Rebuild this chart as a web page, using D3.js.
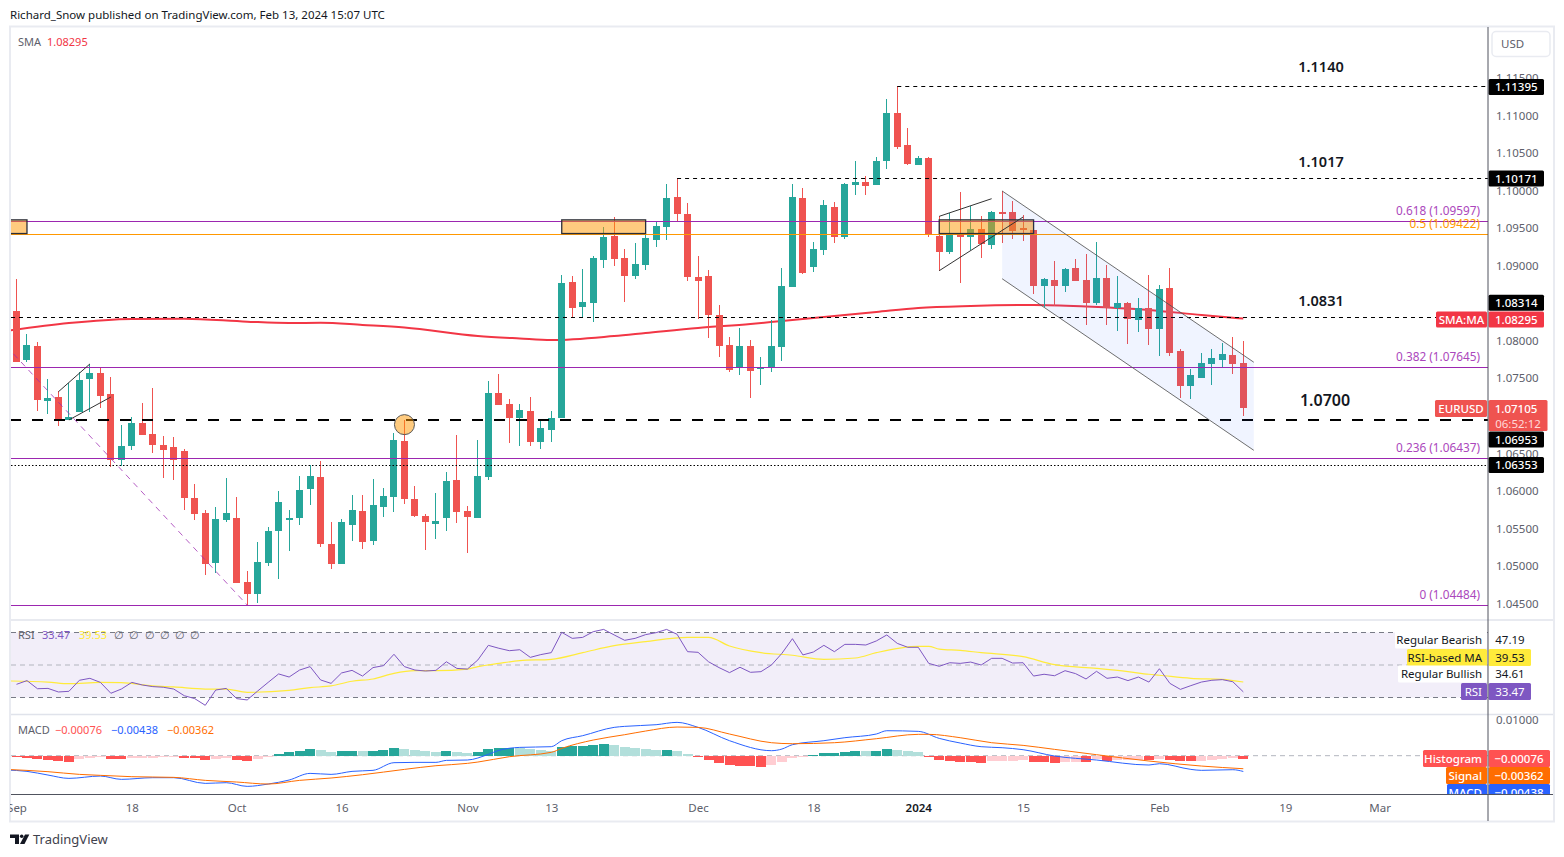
<!DOCTYPE html>
<html>
<head>
<meta charset="utf-8">
<title>EURUSD</title>
<script src="https://cdnjs.cloudflare.com/ajax/libs/d3/7.8.5/d3.min.js"></script>
<style>
html, body { margin: 0; padding: 0; background: #fff; }
svg { display: block; }
text { font-family: "Noto Sans", sans-serif; }
</style>
</head>
<body>
<div id="chart"></div>
<script>
// daily candles, 1 Sep 2023 to 13 Feb 2024
var opens = [1.08397,1.07744,1.07930,1.07198,1.07251,1.06945,1.07051,1.07490,1.07570,1.07291,
	1.06412,1.06598,1.06905,1.06758,1.06612,1.06585,1.06532,1.05905,1.05706,1.05040,
	1.05613,1.05640,1.04787,1.04627,1.05040,1.05467,1.05613,1.05640,1.06025,1.06186,
	1.05293,1.05027,1.05546,1.05733,1.05333,1.05786,1.05919,1.06665,1.05892,1.05666,
	1.05560,1.05640,1.06146,1.05733,1.05640,1.06186,1.07304,1.07158,1.06972,1.07065,
	1.06651,1.06811,1.06972,1.08782,1.08450,1.08503,1.09075,1.09395,1.09102,1.08862,
	1.09009,1.09342,1.09515,1.09915,1.09688,1.08849,1.08862,1.08343,1.07943,1.07637,
	1.07930,1.07623,1.07637,1.07917,1.08716,1.09901,1.08982,1.09209,1.09781,1.09382,
	1.10074,1.10114,1.10074,1.10394,1.11033,1.10607,1.10341,1.10434,1.09395,1.09182,
	1.09435,1.09382,1.09488,1.09275,1.09715,1.09715,1.09501,1.09475,1.08729,1.08809,
	1.08729,1.08969,1.08809,1.08503,1.08835,1.08436,1.08503,1.08276,1.08436,1.08157,
	1.08702,1.07864,1.07397,1.07503,1.07691,1.07744,1.07810,1.07704];
var highs = [1.08822,1.08090,1.07983,1.07490,1.07331,1.07437,1.07583,1.07691,1.07650,1.07517,
	1.06878,1.06985,1.07171,1.07371,1.06731,1.06718,1.06558,1.06093,1.05746,1.05786,
	1.06172,1.05919,1.04934,1.05319,1.05520,1.05999,1.05746,1.06199,1.06345,1.06399,
	1.05586,1.05626,1.05946,1.05946,1.06159,1.06039,1.06771,1.06945,1.06066,1.05693,
	1.05972,1.06252,1.06745,1.05799,1.06678,1.07464,1.07557,1.07224,1.07158,1.07251,
	1.06945,1.07065,1.08875,1.08862,1.08955,1.09129,1.09515,1.09648,1.09222,1.09302,
	1.09422,1.09581,1.10088,1.10168,1.09835,1.09129,1.08942,1.08476,1.08050,1.08170,
	1.08010,1.07784,1.08276,1.08969,1.10088,1.10035,1.09315,1.09875,1.09848,1.10101,
	1.10394,1.10194,1.10447,1.11220,1.11393,1.10834,1.10460,1.10447,1.09661,1.09701,
	1.09981,1.09794,1.09661,1.09728,1.09995,1.09861,1.09675,1.09475,1.08835,1.09062,
	1.08969,1.09089,1.09155,1.09315,1.09009,1.08862,1.08516,1.08569,1.08875,1.08742,
	1.08969,1.07890,1.07623,1.07837,1.07890,1.07970,1.08050,1.07997];
var lows = [1.07717,1.07717,1.07065,1.07025,1.06865,1.06945,1.07051,1.07051,1.07104,1.06319,
	1.06332,1.06545,1.06745,1.06505,1.06172,1.06146,1.05746,1.05613,1.04880,1.04907,
	1.05586,1.04774,1.04480,1.04507,1.05000,1.04827,1.05200,1.05546,1.05813,1.05253,
	1.04960,1.05027,1.05333,1.05226,1.05279,1.05653,1.05719,1.05826,1.05653,1.05213,
	1.05360,1.05467,1.05573,1.05173,1.05640,1.06146,1.07144,1.06638,1.06598,1.06598,
	1.06558,1.06651,1.06972,1.08316,1.08316,1.08249,1.08969,1.08995,1.08516,1.08822,
	1.08942,1.09249,1.09342,1.09595,1.08796,1.08290,1.08037,1.07784,1.07583,1.07543,
	1.07237,1.07410,1.07583,1.07731,1.08716,1.08889,1.08915,1.09142,1.09302,1.09355,
	1.09941,1.09941,1.10074,1.10287,1.10554,1.10341,1.10341,1.09382,1.08929,1.09155,
	1.08769,1.09209,1.09102,1.09222,1.09302,1.09355,1.09329,1.08622,1.08450,1.08463,
	1.08649,1.08796,1.08210,1.08476,1.08210,1.08130,1.07957,1.08117,1.07943,1.07797,
	1.07797,1.07237,1.07224,1.07503,1.07410,1.07637,1.07557,1.06998];
var closes = [1.07717,1.07943,1.07211,1.07237,1.06945,1.06985,1.07477,1.07570,1.07264,1.06412,
	1.06598,1.06905,1.06745,1.06612,1.06545,1.06412,1.05905,1.05693,1.05027,1.05626,
	1.05706,1.04774,1.04627,1.05053,1.05467,1.05853,1.05640,1.06012,1.06199,1.05293,
	1.05027,1.05586,1.05746,1.05319,1.05813,1.05932,1.06678,1.05892,1.05666,1.05586,
	1.05600,1.06132,1.05719,1.05653,1.06199,1.07304,1.07144,1.06972,1.07078,1.06651,
	1.06838,1.06972,1.08769,1.08436,1.08516,1.09102,1.09382,1.09089,1.08862,1.09022,
	1.09369,1.09528,1.09901,1.09688,1.08849,1.08796,1.08343,1.07930,1.07610,1.07930,
	1.07597,1.07650,1.07930,1.08729,1.09915,1.08902,1.09222,1.09808,1.09382,1.10088,
	1.10114,1.10061,1.10394,1.11033,1.10581,1.10354,1.10434,1.09422,1.09182,1.09435,
	1.09382,1.09488,1.09289,1.09715,1.09701,1.09461,1.09475,1.08729,1.08822,1.08729,
	1.08955,1.08796,1.08503,1.08835,1.08436,1.08503,1.08290,1.08436,1.08157,1.08689,
	1.07837,1.07397,1.07543,1.07704,1.07771,1.07824,1.07691,1.07105];

// 200 day SMA, read at these candle numbers
var smaIdx = [-1,5,11,16,22,26,29,33,37,44,48,51,57,60,65,70,73,77,82,86,91,97,102,108,113,117];
var smaVal = [1.08130,1.08236,1.08290,1.08294,1.08254,1.08236,1.08240,1.08210,1.08176,1.08063,1.08030,1.08010,1.08063,1.08103,1.08170,1.08223,1.08263,1.08316,1.08383,1.08436,1.08463,1.08476,1.08456,1.08410,1.08343,1.08295];

var rsiVal = [38.1,40.4,35.4,35.6,33.4,33.8,40.6,41.8,39.3,32.6,
	35.2,39.3,37.7,36.7,36.3,35.2,31.1,29.3,25.2,34.6,
	35.6,29.3,28.5,34.0,39.3,44.5,42.6,46.9,49.0,40.8,
	38.7,45.1,46.7,43.2,48.4,49.6,56.6,49.0,46.9,46.3,
	46.7,52.0,47.9,47.5,53.1,62.1,60.3,58.8,59.4,54.7,
	56.4,57.6,70.1,66.4,67.0,70.5,71.9,68.5,65.2,66.4,
	68.7,69.9,71.9,68.9,58.2,57.8,52.0,48.4,45.3,48.6,
	45.5,45.9,50.0,57.2,66.2,56.2,58.0,62.1,58.2,62.7,
	62.7,62.3,64.8,68.5,63.3,60.9,60.9,51.0,49.2,51.4,
	51.0,51.8,50.0,54.1,54.1,51.2,51.4,43.2,44.3,43.4,
	46.5,44.7,41.4,46.1,41.8,42.6,40.4,42.6,39.5,47.7,
	38.7,35.0,37.3,39.5,40.6,41.0,39.7,33.47];
var rsiMaIdx = [-1,3,5,8,10,13,15,18,20,22,26,28,30,32,34,36,38,40,43,44,46,48,51,54,57,60,64,66,68,71,74,77,80,82,86,87,88,90,92,96,99,103,106,108,109,112,115,117];
var rsiMaVal = [40.2,39.5,38.5,39.3,39.1,37.1,36.5,35.2,35.2,33.2,34.4,36.1,37.1,40.0,41.4,44.9,46.5,46.5,47.5,49.0,51.0,52.7,53.5,57.6,61.9,64.4,67.0,67.0,61.7,57.6,56.0,53.5,54.3,57.6,61.5,61.5,59.8,59.0,57.6,55.1,50.2,47.9,45.9,44.3,43.7,41.8,41.2,39.53];

var histVal = [-.00036,-.00064,-.00092,-.00119,-.00147,-.00153,-.00083,-.00047,-.00036,-.00092,
	-.00097,-.00064,-.00050,-.00044,-.00039,-.00033,-.00064,-.00069,-.00119,-.00092,
	-.00064,-.00119,-.00125,-.00092,-.00036,.00047,.00103,.00131,.00186,.00158,
	.00103,.00131,.00133,.00131,.00133,.00158,.00214,.00186,.00158,.00131,
	.00103,.00131,.00103,.00075,.00103,.00186,.00214,.00217,.00211,.00186,
	.00158,.00131,.00242,.00269,.00272,.00297,.00325,.00297,.00242,.00214,
	.00186,.00158,.00161,.00131,.00047,-.00036,-.00119,-.00203,-.00258,-.00286,
	-.00289,-.00292,-.00258,-.00175,-.00064,-.00036,.00019,.00075,.00078,.00103,
	.00131,.00128,.00131,.00186,.00158,.00131,.00103,-.00036,-.00119,-.00147,
	-.00175,-.00178,-.00181,-.00147,-.00144,-.00142,-.00119,-.00175,-.00178,-.00203,
	-.00175,-.00172,-.00175,-.00092,-.00147,-.00119,-.00117,-.00114,-.00119,-.00092,
	-.00119,-.00147,-.00150,-.00147,-.00119,-.00092,-.00064,-.00076];
var macdIdx = [-1,1,3,5,8,10,13,15,18,20,22,24,26,28,30,32,34,36,38,40,41,43,45,46,48,51,52,54,57,58,61,63,65,68,72,73,74,77,79,82,83,86,88,90,92,94,96,99,103,108,109,112,113,116,117];
var macdVal = [-.00398,-.00435,-.00537,-.00630,-.00565,-.00657,-.00611,-.00611,-.00769,-.00750,-.00852,-.00787,-.00676,-.00491,-.00519,-.00435,-.00407,-.00194,-.00185,-.00185,-.00130,-.00120,.00037,.00148,.00231,.00250,.00417,.00556,.00787,.00815,.00861,.00926,.00787,.00417,.00139,.00185,.00306,.00417,.00500,.00602,.00694,.00676,.00481,.00352,.00250,.00222,.00167,-.00009,-.00120,-.00259,-.00222,-.00380,-.00407,-.00389,-.00438];
var signalIdx = [-1,3,6,8,11,15,18,21,24,27,30,33,37,40,43,44,47,51,52,55,58,60,63,65,68,72,74,78,82,86,87,90,93,96,99,103,108,113,117];
var signalVal = [-.00380,-.00444,-.00519,-.00546,-.00583,-.00602,-.00685,-.00731,-.00787,-.00685,-.00620,-.00528,-.00380,-.00278,-.00213,-.00176,-.00028,.00093,.00204,.00435,.00583,.00685,.00796,.00787,.00602,.00361,.00333,.00361,.00472,.00593,.00593,.00500,.00361,.00287,.00176,.00028,-.00148,-.00287,-.00362];

// 1.08500 and 1.07000 sit fully behind the price tags in the picture
var priceTicks = [1.115,1.11,1.105,1.10,1.095,1.09,1.08,1.075,1.065,1.06,1.055,1.05,1.045];
var timeTickIdx = [0,11,21,31,43,51,65,76,86,96,109,121,130];
var timeTickLabels = ['Sep','18','Oct','16','Nov','13','Dec','18','2024','15','Feb','19','Mar'];

var fibLevels = ['0.618','0.5','0.382','0.236','0'];
var fibPrices = [1.09597,1.09422,1.07645,1.06437,1.04484];

var W = 1564, H = 857;
var left = 11, axisX = 1488;
var green = '#26a69a', red = '#ef5350', purple = '#9c27b0', orange = '#ff9800', grey = '#5d606b';

var svg = d3.select('#chart').append('svg').attr('width', W).attr('height', H);
var defs = svg.append('defs');
function addClip(id, y0, y1){
	defs.append('clipPath').attr('id', id).append('rect')
		.attr('x', left).attr('y', y0).attr('width', axisX - left).attr('height', y1 - y0);
}
addClip('clipMain', 27, 619);
addClip('clipRsi', 621, 714);
addClip('clipMacd', 715, 794);

var x = d3.scaleLinear().domain([0, 117]).range([16.5, 1243.3]);
var y = d3.scaleLinear().domain([1.11, 1.05]).range([115.5, 566]);
var yRsi = d3.scaleLinear().domain([70, 30]).range([632.5, 697.5]);
var yMacd = d3.scaleLinear().domain([0.01, 0]).range([719.7, 755.7]);

// frame
svg.append('rect').attr('x', 10).attr('y', 26.5).attr('width', 1544).attr('height', 795)
	.attr('fill', 'none').attr('stroke', '#e9ebf1').attr('stroke-width', 2);
svg.append('line').attr('x1', left).attr('x2', 1553).attr('y1', 620).attr('y2', 620).attr('stroke', '#e0e3eb').attr('stroke-width', 1.5);
svg.append('line').attr('x1', left).attr('x2', 1553).attr('y1', 714.5).attr('y2', 714.5).attr('stroke', '#e0e3eb').attr('stroke-width', 1.5);

svg.append('text').attr('x', 10).attr('y', 18.5).attr('font-size', 11.5).attr('fill', '#131722')
	.text('Richard_Snow published on TradingView.com, Feb 13, 2024 15:07 UTC');

// main pane
var main = svg.append('g').attr('clip-path', 'url(#clipMain)');
var line = d3.line().x(function(d){ return x(d[0]); }).y(function(d){ return y(d[1]); });

main.append('path').datum(d3.zip(smaIdx, smaVal))
	.attr('d', line.curve(d3.curveMonotoneX))
	.attr('fill', 'none').attr('stroke', '#f23645').attr('stroke-width', 2);
line.curve(d3.curveLinear);

var candles = main.selectAll('g.candle').data(opens).enter().append('g').attr('class', 'candle');
candles.append('rect')
	.attr('x', function(d, i){ return Math.round(x(i) - 3.5) + 3; })
	.attr('y', function(d, i){ return Math.round(y(highs[i])); })
	.attr('width', 1)
	.attr('height', function(d, i){ return Math.round(y(lows[i])) - Math.round(y(highs[i])); })
	.attr('fill', function(d, i){ return closes[i] >= d ? green : red; });
candles.append('rect')
	.attr('x', function(d, i){ return Math.round(x(i) - 3.5); })
	.attr('y', function(d, i){ return Math.round(y(Math.max(d, closes[i]))); })
	.attr('width', 7)
	.attr('height', function(d, i){ return Math.max(2, Math.round(y(Math.min(d, closes[i]))) - Math.round(y(Math.max(d, closes[i])))); })
	.attr('fill', function(d, i){ return closes[i] >= d ? green : red; });

// fib retracement
main.selectAll('line.fib').data(fibPrices).enter().append('line').attr('class', 'fib')
	.attr('x1', left).attr('x2', axisX)
	.attr('y1', function(d){ return Math.round(y(d)) + 0.5; }).attr('y2', function(d){ return Math.round(y(d)) + 0.5; })
	.attr('stroke', function(d, i){ return i == 1 ? orange : purple; })
	.attr('stroke-width', 1);
main.append('path').datum([[-1, 1.07932], [22, 1.04480]]).attr('d', line)
	.attr('fill', 'none').attr('stroke', purple).attr('stroke-width', 1).attr('stroke-dasharray', '6 5').attr('opacity', 0.75);

// horizontal levels
function level(price, from, width, dash){
	var ly = Math.round(y(price)) + width / 2;
	main.append('line').attr('x1', from).attr('x2', axisX)
		.attr('y1', ly).attr('y2', ly)
		.attr('stroke', '#000').attr('stroke-width', width).attr('stroke-dasharray', dash);
}
level(1.11395, x(84), 1, '4 4');
level(1.10171, x(63), 1, '4 4');
level(1.08314, left, 1, '4 4');
level(1.06953, left - 1, 2, '11 11');
level(1.06342, left, 1, '1.5 2');

// rectangles and the circle
function zone(i0, i1){
	main.append('rect').attr('x', i0 < 0 ? left - 2 : x(i0)).attr('width', x(i1) - (i0 < 0 ? left - 2 : x(i0)))
		.attr('y', y(1.09610)).attr('height', y(1.09428) - y(1.09610))
		.attr('fill', orange).attr('fill-opacity', 0.5).attr('stroke', '#2a2e39').attr('stroke-width', 1.3);
}
zone(-1, 1);
zone(52, 60);
zone(88, 97);
main.append('circle').attr('cx', x(37)).attr('cy', y(1.06883)).attr('r', 10)
	.attr('fill', orange).attr('fill-opacity', 0.5).attr('stroke', '#555').attr('stroke-width', 1);

// channel
var channelTop = [[94, 1.09995], [118, 1.07714]];
var channelBottom = [[94, 1.08826], [118, 1.06541]];
main.append('path').attr('d', line(channelTop.concat(channelBottom.slice().reverse())) + 'Z')
	.attr('fill', '#2962ff').attr('fill-opacity', 0.07);
main.append('path').attr('d', line(channelTop)).attr('fill', 'none').attr('stroke', '#555').attr('stroke-opacity', 0.85);
main.append('path').attr('d', line(channelBottom)).attr('fill', 'none').attr('stroke', '#555').attr('stroke-opacity', 0.85);

// flags
var flags = [
	[[4, 1.07321], [7, 1.07691]],
	[[5, 1.06945], [9, 1.07251]],
	[[88, 1.09657], [93, 1.09892]],
	[[88, 1.08933], [96, 1.09648]]
];
flags.forEach(function(f){
	main.append('path').attr('d', line(f)).attr('fill', 'none').attr('stroke', '#333').attr('stroke-width', 1);
});

// level captions
var captionText = ['1.1140','1.1017','1.0831','1.0700'];
var captionX = [1321,1321,1321,1325];
var captionY = [72,167,306,405.5];
captionText.forEach(function(t, i){
	svg.append('text').attr('x', captionX[i]).attr('y', captionY[i]).attr('text-anchor', 'middle')
		.attr('font-size', i == 3 ? 16 : 14.5).attr('font-weight', 600).attr('fill', '#131722').text(t);
});
var fibColors = ['#ab47bc', orange, '#ab47bc', '#ab47bc', '#ab47bc'];
fibLevels.forEach(function(l, i){
	svg.append('text').attr('x', 1480).attr('y', y(fibPrices[i]) - 6).attr('text-anchor', 'end')
		.attr('font-size', 11.8).attr('fill', fibColors[i])
		.text(l + ' (' + fibPrices[i].toFixed(5) + ')');
});

svg.append('text').attr('x', 18).attr('y', 46).attr('font-size', 11).attr('fill', grey).text('SMA');
svg.append('text').attr('x', 47).attr('y', 46).attr('font-size', 11).attr('fill', '#f23645').text('1.08295');

// price axis
var axisR = svg.append('g').attr('transform', 'translate(' + axisX + ',0)')
	.call(d3.axisRight(y).tickValues(priceTicks).tickFormat(d3.format('.5f')).tickSize(0).tickPadding(8));
axisR.select('.domain').remove();
axisR.selectAll('text').attr('font-size', 11.5).attr('fill', grey).style('font-family', '"Noto Sans", sans-serif');

function tag(x0, x1, yc, h, fill, txt, color, anchor){
	svg.append('rect').attr('x', x0).attr('y', yc - h / 2).attr('width', x1 - x0).attr('height', h).attr('rx', 1.5).attr('fill', fill);
	svg.append('text').attr('x', anchor == 'end' ? x1 - 5 : (x0 + x1) / 2).attr('y', yc + 4).attr('text-anchor', anchor || 'middle')
		.attr('font-size', 11.5).attr('font-weight', 500).attr('fill', color).text(txt);
}
var blackTags = ['1.11395','1.10171','1.08314','1.06953','1.06353'];
var blackTagY = [87,178.5,302.7,439.5,465];
blackTags.forEach(function(t, i){ tag(1488.5, 1544, blackTagY[i], 16, '#000', t, '#fff'); });
tag(1488.5, 1544, 319.5, 16, '#f23645', '1.08295', '#fff');
tag(1436, 1487, 319.5, 16, '#f23645', 'SMA:MA', '#fff');
tag(1435, 1487, 408.5, 17, red, 'EURUSD', '#fff');
svg.append('rect').attr('x', 1488.5).attr('y', 400).attr('width', 59).attr('height', 31).attr('rx', 1.5).attr('fill', red);
svg.append('text').attr('x', 1516).attr('y', 412.5).attr('text-anchor', 'middle').attr('font-size', 11.5).attr('font-weight', 500).attr('fill', '#fff').text('1.07105');
svg.append('text').attr('x', 1518).attr('y', 427.5).attr('text-anchor', 'middle').attr('font-size', 11.5).attr('fill', '#ffd9d8').text('06:52:12');

// USD button
svg.append('rect').attr('x', 1492).attr('y', 31.5).attr('width', 58).attr('height', 25).attr('rx', 4)
	.attr('fill', '#fff').attr('stroke', '#e9ebf1').attr('stroke-width', 1.5);
svg.append('text').attr('x', 1501).attr('y', 48).attr('font-size', 11.5).attr('fill', grey).text('USD');

// RSI pane
var rsiPane = svg.append('g').attr('clip-path', 'url(#clipRsi)');
rsiPane.append('rect').attr('x', left).attr('width', axisX - left)
	.attr('y', yRsi(70)).attr('height', yRsi(30) - yRsi(70)).attr('fill', '#7e57c2').attr('fill-opacity', 0.1);
[70, 50, 30].forEach(function(v){
	rsiPane.append('line').attr('x1', left).attr('x2', axisX).attr('y1', yRsi(v)).attr('y2', yRsi(v))
		.attr('stroke', v == 50 ? '#b2b5be' : '#787b86').attr('stroke-dasharray', '5 4');
});
var rsiLine = d3.line().x(function(d, i){ return x(i); }).y(function(d){ return yRsi(d); });
var rsiMaLine = d3.line().x(function(d){ return x(d[0]); }).y(function(d){ return yRsi(d[1]); }).curve(d3.curveMonotoneX);
rsiPane.append('path').datum(d3.zip(rsiMaIdx, rsiMaVal)).attr('d', rsiMaLine).attr('fill', 'none').attr('stroke', '#ffeb3b').attr('stroke-width', 1.2);
rsiPane.append('path').datum(rsiVal).attr('d', rsiLine).attr('fill', 'none').attr('stroke', '#7e57c2').attr('stroke-width', 1);

svg.append('text').attr('x', 18).attr('y', 639).attr('font-size', 11).attr('fill', grey).text('RSI');
svg.append('text').attr('x', 42).attr('y', 639).attr('font-size', 11).attr('fill', '#7e57c2').text('33.47');
svg.append('text').attr('x', 79).attr('y', 639).attr('font-size', 11).attr('fill', '#ffeb3b').text('39.53');
[119, 134, 150, 165, 180, 195].forEach(function(px){
	svg.append('text').attr('x', px).attr('y', 639).attr('text-anchor', 'middle').attr('font-size', 11).attr('fill', grey).text('∅');
});

function rsiTag(yc, name, value, x0, fill, color){
	svg.append('rect').attr('x', x0).attr('y', yc - 8.5).attr('width', 1487 - x0).attr('height', 17).attr('rx', 1.5).attr('fill', fill);
	svg.append('text').attr('x', 1482).attr('y', yc + 4).attr('text-anchor', 'end').attr('font-size', 11.5).attr('fill', color).text(name);
	if (fill != '#fff') {
		svg.append('rect').attr('x', 1488.5).attr('y', yc - 8.5).attr('width', 42.5).attr('height', 17).attr('rx', 1.5).attr('fill', fill);
	}
	svg.append('text').attr('x', 1510).attr('y', yc + 4).attr('text-anchor', 'middle').attr('font-size', 11.5).attr('fill', color).text(value);
}
rsiTag(640, 'Regular Bearish', '47.19', 1395, '#fff', '#131722');
rsiTag(657.5, 'RSI-based MA', '39.53', 1407, '#ffeb3b', '#131722');
rsiTag(674, 'Regular Bullish', '34.61', 1398, '#fff', '#131722');
rsiTag(691.5, 'RSI', '33.47', 1461, '#7e57c2', '#fff');

// MACD pane
var macdPane = svg.append('g').attr('clip-path', 'url(#clipMacd)');
macdPane.append('line').attr('x1', left).attr('x2', axisX).attr('y1', yMacd(0)).attr('y2', yMacd(0))
	.attr('stroke', '#b2b5be').attr('stroke-dasharray', '5 4');
macdPane.selectAll('rect.hist').data(histVal).enter().append('rect').attr('class', 'hist')
	.attr('x', function(d, i){ return Math.round(x(i) - 5); })
	.attr('width', 10)
	.attr('y', function(d){ return Math.round(Math.min(yMacd(d), yMacd(0))); })
	.attr('height', function(d){ return Math.max(1, Math.round(Math.abs(yMacd(d) - yMacd(0)))); })
	.attr('fill', function(d, i){
		var prev = i ? histVal[i - 1] : 0;
		if (d >= 0) return d > prev ? green : '#b2dfdb';
		return d < prev ? '#ff5252' : '#ffcdd2';
	});
var macdLine = d3.line().x(function(d){ return x(d[0]); }).y(function(d){ return yMacd(d[1]); }).curve(d3.curveMonotoneX);
macdPane.append('path').datum(d3.zip(macdIdx, macdVal)).attr('d', macdLine).attr('fill', 'none').attr('stroke', '#2962ff').attr('stroke-width', 1);
macdPane.append('path').datum(d3.zip(signalIdx, signalVal)).attr('d', macdLine).attr('fill', 'none').attr('stroke', '#ff6d00').attr('stroke-width', 1);

svg.append('text').attr('x', 18).attr('y', 734).attr('font-size', 11).attr('fill', grey).text('MACD');
svg.append('text').attr('x', 55).attr('y', 734).attr('font-size', 11).attr('fill', '#ff5252').text('−0.00076');
svg.append('text').attr('x', 111).attr('y', 734).attr('font-size', 11).attr('fill', '#2962ff').text('−0.00438');
svg.append('text').attr('x', 167).attr('y', 734).attr('font-size', 11).attr('fill', '#ff6d00').text('−0.00362');

defs.append('clipPath').attr('id', 'clipTick').append('rect').attr('x', 1489).attr('y', 715).attr('width', 60).attr('height', 20);
var axisM = svg.append('g').attr('clip-path', 'url(#clipTick)').append('g').attr('transform', 'translate(' + axisX + ',0)')
	.call(d3.axisRight(yMacd).tickValues([0.01]).tickFormat(d3.format('.5f')).tickSize(0).tickPadding(8));
axisM.select('.domain').remove();
axisM.selectAll('text').attr('font-size', 11.5).attr('fill', grey).style('font-family', '"Noto Sans", sans-serif');

defs.append('clipPath').attr('id', 'clipTags').append('rect').attr('x', 1400).attr('y', 740).attr('width', 160).attr('height', 54);
var tagLayer = svg.append('g').attr('clip-path', 'url(#clipTags)');
function macdTag(yc, name, value, x0, fill){
	tagLayer.append('rect').attr('x', x0).attr('y', yc - 8.5).attr('width', 1487 - x0).attr('height', 17).attr('rx', 1.5).attr('fill', fill);
	tagLayer.append('rect').attr('x', 1488.5).attr('y', yc - 8.5).attr('width', 61.5).attr('height', 17).attr('rx', 1.5).attr('fill', fill);
	tagLayer.append('text').attr('x', 1482).attr('y', yc + 4).attr('text-anchor', 'end').attr('font-size', 11.5).attr('font-weight', 500).attr('fill', '#fff').text(name);
	tagLayer.append('text').attr('x', 1519).attr('y', yc + 4).attr('text-anchor', 'middle').attr('font-size', 11.5).attr('font-weight', 500).attr('fill', '#fff').text(value);
}
macdTag(758.5, 'Histogram', '−0.00076', 1423, '#ff5252');
macdTag(775.5, 'Signal', '−0.00362', 1446, '#ff6d00');
macdTag(792.5, 'MACD', '−0.00438', 1447, '#2962ff');

// time axis
defs.append('clipPath').attr('id', 'clipAxis').append('rect').attr('x', 10).attr('y', 795).attr('width', 1478).attr('height', 26);
var axisB = svg.append('g').attr('clip-path', 'url(#clipAxis)').append('g').attr('transform', 'translate(0,794)')
	.call(d3.axisBottom(x).tickValues(timeTickIdx).tickSize(0).tickPadding(10)
		.tickFormat(function(d, i){ return timeTickLabels[i]; }));
axisB.select('.domain').remove();
axisB.selectAll('text').attr('font-size', 11.5).style('font-family', '"Noto Sans", sans-serif')
	.attr('fill', function(d, i){ return timeTickLabels[i] == '2024' ? '#131722' : grey; })
	.attr('font-weight', function(d, i){ return timeTickLabels[i] == '2024' ? 600 : 400; });

// pane borders, on top of the tags
svg.append('line').attr('x1', axisX).attr('x2', axisX).attr('y1', 27).attr('y2', 821).attr('stroke', '#50535e').attr('stroke-width', 1);
svg.append('line').attr('x1', left).attr('x2', 1553).attr('y1', 794.5).attr('y2', 794.5).attr('stroke', '#50535e').attr('stroke-width', 1);

// logo
var logo = svg.append('g').attr('fill', '#131722');
logo.append('path').attr('d', 'M10 834.5H19V844H15V838H10Z');
logo.append('circle').attr('cx', 21.7).attr('cy', 836.2).attr('r', 1.8);
logo.append('path').attr('d', 'M25 834.5H29.3L24.5 844H20Z');
svg.append('text').attr('x', 33).attr('y', 844).attr('font-size', 13).attr('fill', '#3f424d').text('TradingView');
</script>
</body>
</html>
